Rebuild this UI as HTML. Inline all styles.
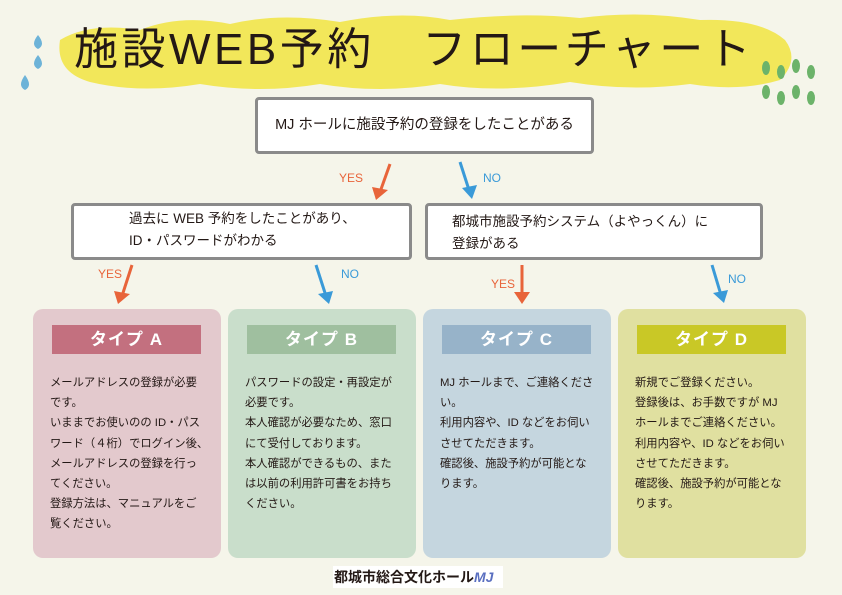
<!DOCTYPE html>
<html><head><meta charset="utf-8"><style>
*{margin:0;padding:0;box-sizing:border-box}
body{width:842px;height:595px;background:#f5f5ea;position:relative;overflow:hidden;font-family:"Liberation Sans","Noto Sans CJK JP",sans-serif;color:#231815}
.a{position:absolute}
.box{position:absolute;background:#fff;border:3px solid #8a8a8a;border-radius:4px;font-size:13.5px;line-height:22px}
.card{position:absolute;top:309px;width:188px;height:249px;border-radius:10px}
.hd{position:absolute;left:19px;top:16px;width:149px;height:29px;color:#fff;font-weight:bold;font-size:17px;text-align:center;line-height:29px;letter-spacing:1px}
.tx{position:absolute;left:17px;top:64px;font-size:11.3px;line-height:20.2px;white-space:nowrap}
.lbl{position:absolute;font-size:12px}
</style></head><body>
<svg class="a" style="left:0;top:0" width="842" height="595">
<path d="M60 40 Q90 22 140 30 Q180 14 230 24 Q280 12 340 22 Q400 10 450 20 Q520 12 580 18 Q640 10 700 20 Q760 18 785 40 Q800 60 780 80 Q740 92 690 84 Q630 92 570 82 Q500 94 440 84 Q380 94 320 84 Q260 94 200 84 Q140 94 90 82 Q55 72 60 40Z" fill="#f2e64a" opacity="0.9"/>
<g fill="#6db3d8"><path d="M38 35 q-8 10 0 14 q8 -4 0 -14z"/><path d="M38 55 q-8 10 0 14 q8 -4 0 -14z"/><path d="M25 75 q-8 11 0 15 q8 -4 0 -15z"/></g>
<g fill="#6cb36a">
<ellipse cx="766" cy="68" rx="4" ry="7"/><ellipse cx="781" cy="72" rx="4" ry="7"/><ellipse cx="796" cy="66" rx="4" ry="7"/><ellipse cx="811" cy="72" rx="4" ry="7"/>
<ellipse cx="766" cy="92" rx="4" ry="7"/><ellipse cx="781" cy="98" rx="4" ry="7"/><ellipse cx="796" cy="92" rx="4" ry="7"/><ellipse cx="811" cy="98" rx="4" ry="7"/></g>
<g stroke-width="3" fill="none">
<line x1="390" y1="164" x2="380" y2="192" stroke="#e8643a"/>
<line x1="460" y1="162" x2="469" y2="190" stroke="#3a9ad8"/>
<line x1="132" y1="265" x2="122" y2="296" stroke="#e8643a"/>
<line x1="316" y1="265" x2="326" y2="296" stroke="#3a9ad8"/>
<line x1="522" y1="265" x2="522" y2="296" stroke="#e8643a"/>
<line x1="712" y1="265" x2="721" y2="295" stroke="#3a9ad8"/>
</g>
<polygon points="372,187 388,190 376,200" fill="#e8643a"/>
<polygon points="462,188 477,185 472,199" fill="#3a9ad8"/>
<polygon points="114,291 130,294 118,304" fill="#e8643a"/>
<polygon points="318,294 333,291 329,304" fill="#3a9ad8"/>
<polygon points="514,292 530,292 522,304" fill="#e8643a"/>
<polygon points="713,293 728,290 724,303" fill="#3a9ad8"/>
</svg>
<div class="a" style="left:74px;top:22px;font-size:44px;line-height:56px;white-space:nowrap;letter-spacing:3.5px">施設WEB予約　フローチャート</div>
<div class="box" style="left:255px;top:97px;width:339px;height:57px;text-align:center;padding-top:14px;font-size:14.5px">MJ ホールに施設予約の登録をしたことがある</div>
<div class="box" style="left:71px;top:203px;width:341px;height:57px;padding:2px 0 0 55px">過去に WEB 予約をしたことがあり、<br>ID・パスワードがわかる</div>
<div class="box" style="left:425px;top:203px;width:338px;height:57px;padding:5px 0 0 24px">都城市施設予約システム（よやっくん）に<br>登録がある</div>
<div class="lbl" style="left:339px;top:171px;color:#e8643a">YES</div>
<div class="lbl" style="left:483px;top:171px;color:#3a9ad8">NO</div>
<div class="lbl" style="left:98px;top:267px;color:#e8643a">YES</div>
<div class="lbl" style="left:341px;top:267px;color:#3a9ad8">NO</div>
<div class="lbl" style="left:491px;top:277px;color:#e8643a">YES</div>
<div class="lbl" style="left:728px;top:272px;color:#3a9ad8">NO</div>
<div class="card" style="left:33px;background:#e3c9cd"><div class="hd" style="background:#c3707f">タイプ A</div>
<div class="tx">メールアドレスの登録が必要<br>です。<br>いままでお使いのの ID・パス<br>ワード（４桁）でログイン後、<br>メールアドレスの登録を行っ<br>てください。<br>登録方法は、マニュアルをご<br>覧ください。</div></div>
<div class="card" style="left:228px;background:#c9decb"><div class="hd" style="background:#9fbf9f">タイプ B</div>
<div class="tx">パスワードの設定・再設定が<br>必要です。<br>本人確認が必要なため、窓口<br>にて受付しております。<br>本人確認ができるもの、また<br>は以前の利用許可書をお持ち<br>ください。</div></div>
<div class="card" style="left:423px;background:#c5d6df"><div class="hd" style="background:#97b3c9">タイプ C</div>
<div class="tx">MJ ホールまで、ご連絡くださ<br>い。<br>利用内容や、ID などをお伺い<br>させてただきます。<br>確認後、施設予約が可能とな<br>ります。</div></div>
<div class="card" style="left:618px;background:#e0e0a0"><div class="hd" style="background:#c9c826">タイプ D</div>
<div class="tx">新規でご登録ください。<br>登録後は、お手数ですが MJ<br>ホールまでご連絡ください。<br>利用内容や、ID などをお伺い<br>させてただきます。<br>確認後、施設予約が可能とな<br>ります。</div></div>
<div class="a" style="left:333px;top:566px;width:170px;height:22px;background:#fff"></div>
<div class="a" style="left:334px;top:567px;font-size:14px;font-weight:bold;white-space:nowrap;line-height:20px">都城市総合文化ホール<span style="color:#5a6fc0;font-style:italic">MJ</span></div>
</body></html>
